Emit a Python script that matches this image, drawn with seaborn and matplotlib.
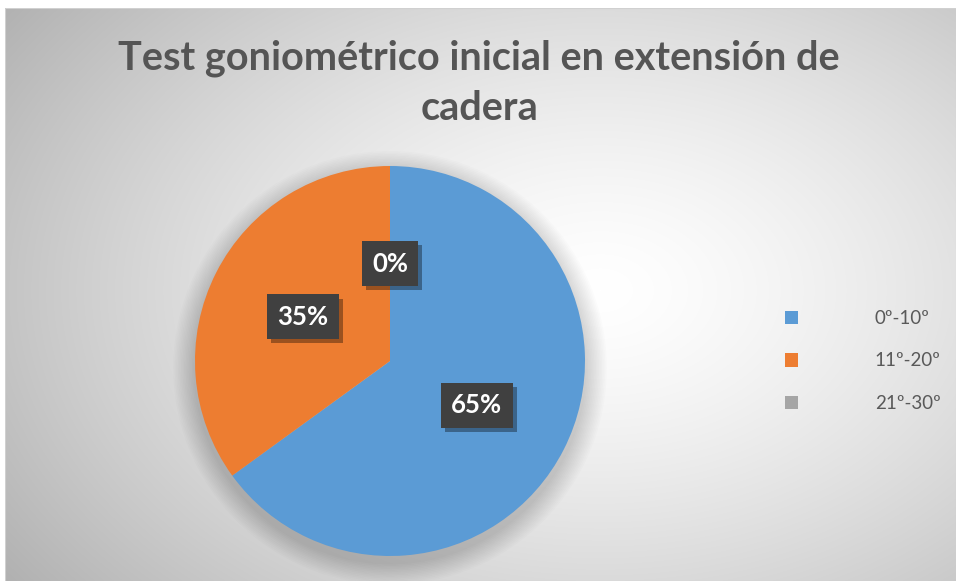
import numpy as np
import matplotlib
matplotlib.use("Agg")
import matplotlib.pyplot as plt
import matplotlib.patheffects as pe
from matplotlib.patches import Circle
import seaborn as sns

categories = ["0º-10º", "11º-20º", "21º-30º"]
values = [65, 35, 0]
pct_labels = ["65%", "35%", "0%"]
title_lines = ["Test goniométrico inicial en extensión de", "cadera"]

sns.set_theme(style="white")
plt.rcParams["font.family"] = ["Lato", "DejaVu Sans"]

colors = ["#5B9BD5", "#ED7D31", "#A5A5A5"]
W, H = 958, 581
fig = plt.figure(figsize=(W / 100, H / 100), dpi=100)
fig.patch.set_facecolor("white")

# background chart area with radial gradient
x0, y0, x1, y1 = 5, 8, 956, 581
bg = fig.add_axes([x0 / W, 1 - y1 / H, (x1 - x0) / W, (y1 - y0) / H])
xs = np.arange(x0, x1)
ys = np.arange(y0, y1)
XX, YY = np.meshgrid(xs, ys)
r = np.sqrt(((XX - 600) / 620.0) ** 2 + ((YY - 290) / 420.0) ** 2)
val = 255 - 62 * np.clip(r, 0, 1.3) ** 1.4
img = np.dstack([val, val, val]) / 255.0
bg.imshow(img, aspect="auto", extent=[0, 1, 0, 1], origin="upper")
bg.set_axis_off()
bg.add_patch(plt.Rectangle((0, 0), 1, 1, transform=bg.transAxes, fill=False,
                           edgecolor="#D0D0D0", lw=0.8))

# pie axes: center (390,361), radius 195
cx, cy, R = 390, 361, 195
ax = fig.add_axes([(cx - R) / W, 1 - (cy + R) / H, 2 * R / W, 2 * R / H])
ax.set_facecolor("none")
ax.set_axis_off()

# soft shadow under pie
for i in range(14):
    c = Circle((0.0, -0.035), 1.0 + 0.008 * (14 - i), color="black",
               alpha=0.011, lw=0, zorder=0)
    c.set_clip_on(False)
    ax.add_patch(c)

wedges, _ = ax.pie(values, colors=colors, startangle=90, counterclock=False,
                   radius=1.0, wedgeprops=dict(linewidth=0))
for w in wedges:
    w.set_zorder(2)
    w.set_clip_on(False)
ax.set_xlim(-1, 1)
ax.set_ylim(-1, 1)
ax.set_aspect("equal")

# percentage labels placed at mid-angle of each slice
total = sum(values)
start = 90.0
for v, lab in zip(values, pct_labels):
    sweep = 360.0 * v / total
    mid = np.deg2rad(start - sweep / 2)
    start -= sweep
    t = ax.text(0.5 * np.cos(mid), 0.5 * np.sin(mid), lab, ha="center", va="center",
                color="white", fontsize=18.5, fontweight="bold", zorder=5,
                bbox=dict(boxstyle="square,pad=0.4", facecolor="#404040",
                          edgecolor="none"))
    t.get_bbox_patch().set_path_effects([
        pe.SimplePatchShadow(offset=(3, -3), shadow_rgbFace="black", alpha=0.35),
        pe.Normal()])

fig.text(0.5, 1 - 58 / H, title_lines[0],
         ha="center", va="center", fontsize=28.5, fontweight="bold", color="#555555")
fig.text(0.5, 1 - 108 / H, title_lines[1], ha="center", va="center", fontsize=28.5,
         fontweight="bold", color="#555555")

handles = [plt.Rectangle((0, 0), 1, 1, facecolor=c, edgecolor="none") for c in colors]
leg = fig.legend(handles, categories, loc="center left",
                 bbox_to_anchor=(768 / W, 1 - 361 / H), frameon=False,
                 fontsize=13.5, handlelength=0.7, handleheight=0.7,
                 handletextpad=4.1, labelspacing=1.35, labelcolor="#595959")

fig.savefig("out.png", dpi=100, facecolor="white")
